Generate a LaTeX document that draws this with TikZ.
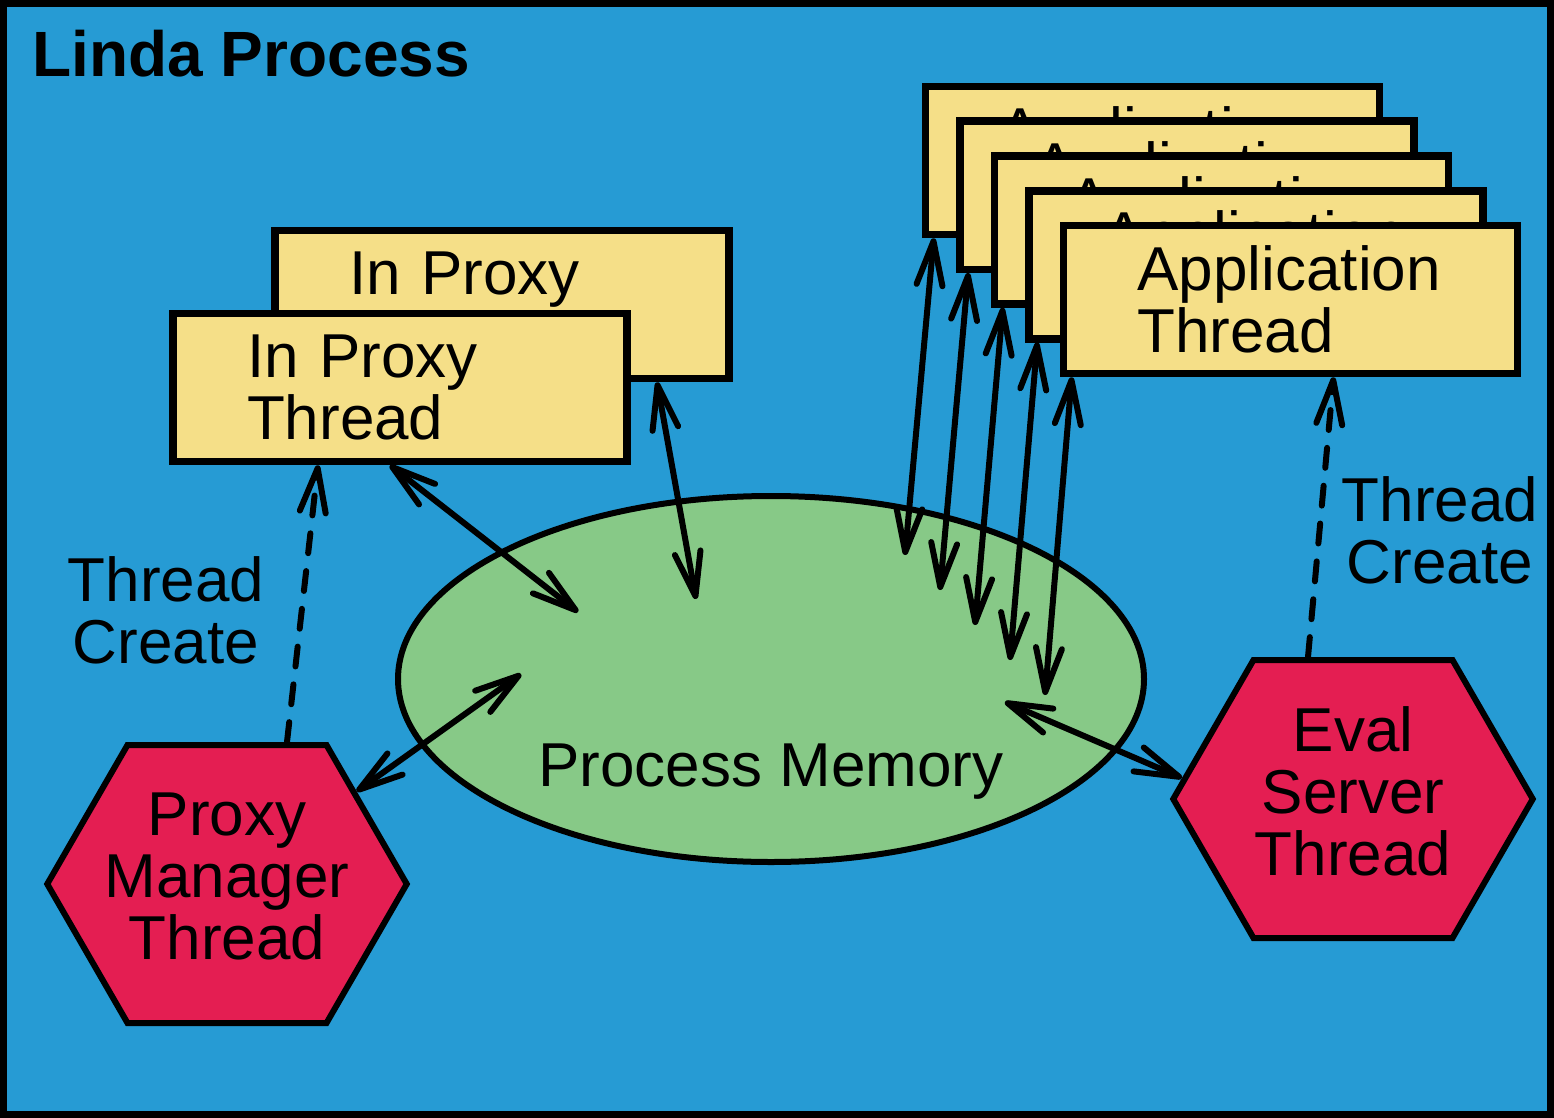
\documentclass[tikz,border=0pt]{standalone}
\usepackage{fontspec}
\setmainfont{Liberation Sans}
\usepackage{tikz}
\usetikzlibrary{arrows.meta, positioning, shapes.geometric, shapes.symbols}
\definecolor{procblue}{RGB}{38,155,212}
\definecolor{threadyellow}{RGB}{245,223,136}
\definecolor{memgreen}{RGB}{135,201,135}
\definecolor{serverred}{RGB}{228,30,82}

\begin{document}
\begin{tikzpicture}[x=1pt, y=-1pt,
    every node/.style={font=\fontsize{62}{62}\selectfont},
    threadbox/.style={draw, line width=7.5pt, fill=threadyellow,
      minimum width=453pt, minimum height=148pt,
      text width=306pt, inner xsep=74pt, align=left},
    hexthread/.style={signal, signal to=west and east, signal pointer angle=120,
      draw, line width=6pt, fill=serverred,
      text width=245pt, inner xsep=-23pt, minimum height=278pt,
      align=center, text depth=139pt},
    barb/.tip={Straight Barb[length=44pt, width=26pt, round]},
    link/.style={line width=6pt, barb-barb},
    spawn/.style={line width=6pt, line cap=round, dash pattern=on 20pt off 18pt, -barb}
  ]
  \useasboundingbox (0,0) rectangle (1554,1118);
  \draw[line width=7pt, fill=procblue] (3.5,3.5) rectangle (1550.5,1114.5);
  \node[anchor=base west, font=\fontsize{64}{64}\selectfont\bfseries] (title) at (29,77) {Linda Process};

  % shared memory
  \node[ellipse, draw, line width=6pt, fill=memgreen,
    minimum width=746pt, minimum height=366pt] (mem) at (771,679) {};
  \node (memtext) at (771,772) {Process Memory};

  % in proxies
  \node[threadbox] (inback) at (502,304.5) {In Proxy\\Thread};
  \node[threadbox] (infront) at ([shift={(-102,83)}]inback) {In Proxy\\Thread};

  % application threads, stacked
  \foreach \i in {1,...,5}
    \node[threadbox] (app\i) at (1118+34.5*\i, 125.75+34.75*\i) {Application\\Thread};

  \node[hexthread] (pmgr) at (227,884) {Proxy\\Manager\\Thread};
  \node[hexthread] (evals) at (1353,799) {Eval\\Server\\Thread};

  \node[align=center] (tcleft) at (166,610) {Thread\\Create};
  \node[align=center] (tcright) at (1440,530) {Thread\\Create};

  % points inside the memory
  \coordinate (mi1) at (578,612);
  \coordinate (mi2) at (696,599);
  \coordinate (mp) at (521,674);
  \coordinate (me) at (1005,702);
  \foreach \i in {1,...,5}
    \coordinate (ma\i) at (870+35*\i, 520+35*\i);

  \draw[link] ([xshift=-10pt]infront.south) -- (mi1);
  \draw[link] ([xshift=155pt]inback.south) -- (mi2);
  \draw[link] (mp) -- (pmgr);
  \draw[link] (me) -- (evals.173);
  \foreach \i in {1,...,5}
    \draw[link] ([xshift=12pt]app\i.south west) -- (ma\i);

  \draw[spawn] ([xshift=60pt]pmgr.north) -- ([xshift=-82pt]infront.south);
  \draw[spawn] ([xshift=-45pt]evals.north) -- ([xshift=43pt]app5.south);
\end{tikzpicture}
\end{document}
